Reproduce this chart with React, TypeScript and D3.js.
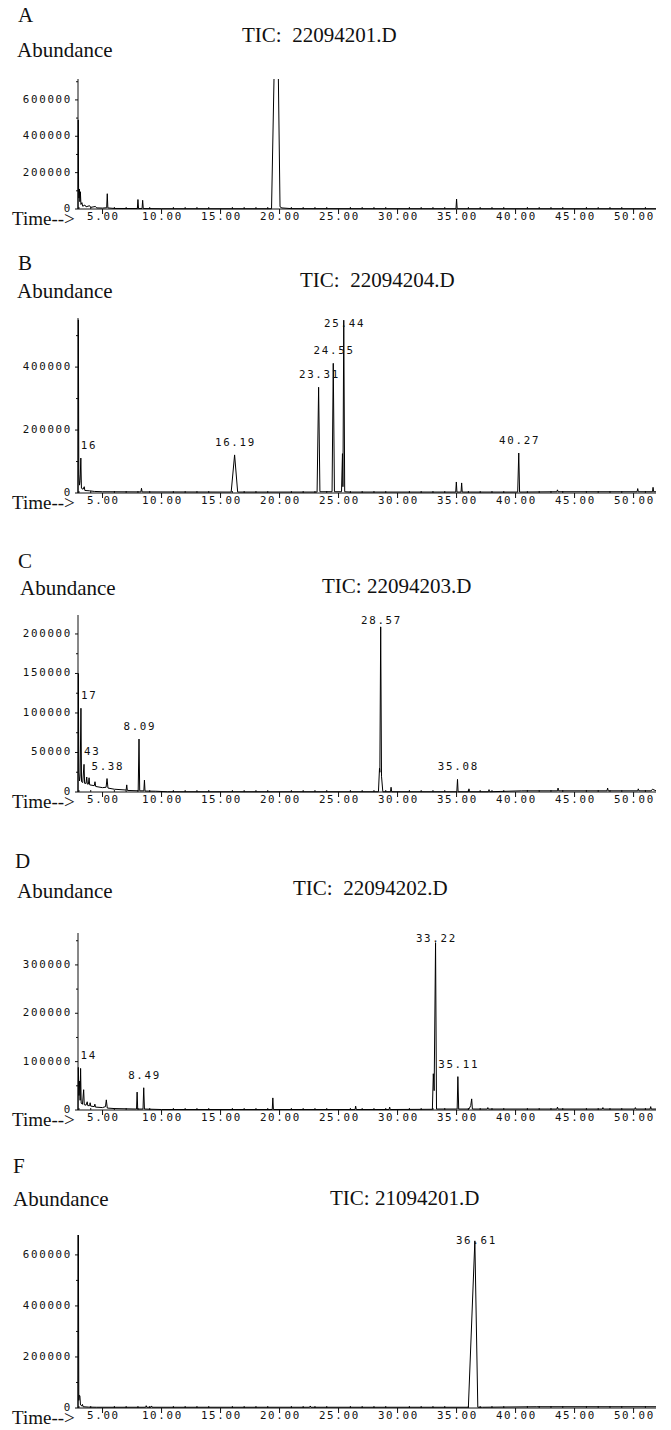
import React, { useRef, useEffect } from 'react';
import * as d3 from 'd3';

type Pt = [number, number];
type PeakLabel = { t: number; text: string; cut?: boolean };

// shared time axis (minutes)
const timeDomain: [number, number] = [2.92, 51.9];
const timeTicks = [5, 10, 15, 20, 25, 30, 35, 40, 45, 50];

const letters = ['A', 'B', 'C', 'D', 'F'];
const titles = ['TIC:  22094201.D', 'TIC:  22094204.D', 'TIC: 22094203.D', 'TIC:  22094202.D', 'TIC: 21094201.D'];

// abundance axis per panel
const yMaxes = [715000, 556000, 224000, 366000, 678000];
const yTicksA = [0, 200000, 400000, 600000];
const yTicksB = [0, 200000, 400000];
const yTicksC = [0, 50000, 100000, 150000, 200000];
const yTicksD = [0, 100000, 200000, 300000];
const yTicksF = [0, 200000, 400000, 600000];

// chromatogram traces [time, abundance]
const traceA: Pt[] = [
  [2.92, 0], [2.94, 490000], [2.97, 120000], [3.0, 60000], [3.04, 110000], [3.08, 40000],
  [3.12, 95000], [3.17, 25000], [3.25, 35000], [3.32, 15000], [3.5, 22000], [3.6, 12000],
  [3.9, 18000], [4.0, 9000], [4.4, 14000], [4.5, 6000], [5.0, 5000], [5.35, 7000],
  [5.4, 84000], [5.45, 6000], [6.0, 3000], [7.95, 2500], [8.0, 52000], [8.05, 2500],
  [8.35, 2500], [8.4, 48000], [8.45, 2500], [10.0, 1500], [19.32, 1500], [19.75, 1470000],
  [20.04, 12000], [20.2, 6000], [21.0, 2000], [34.95, 1500], [35.0, 55000], [35.05, 1500],
  [51.9, 1500],
];

const traceB: Pt[] = [
  [2.92, 0], [2.95, 550000], [2.99, 60000], [3.05, 25000], [3.1, 40000], [3.16, 111000],
  [3.21, 15000], [3.35, 12000], [3.45, 20000], [3.5, 8000], [3.9, 7000], [4.3, 5000],
  [5.0, 4000], [8.25, 3500], [8.3, 15000], [8.35, 3500], [15.9, 3000], [16.19, 121000],
  [16.45, 3000], [23.18, 3000], [23.31, 336000], [23.42, 4000], [24.45, 4000], [24.55, 412000],
  [24.65, 4000], [25.25, 4000], [25.33, 125000], [25.37, 20000], [25.44, 549000], [25.52, 4000],
  [26.0, 3000], [34.93, 3000], [34.98, 35000], [35.03, 3000], [35.38, 3000], [35.43, 32000],
  [35.48, 3000], [40.18, 3000], [40.27, 127000], [40.34, 3000], [43.5, 4000], [43.55, 10000],
  [43.6, 4000], [50.3, 4000], [50.35, 14000], [50.4, 4000], [51.6, 4000], [51.65, 18000],
  [51.7, 4000], [51.9, 4000],
];

const traceC: Pt[] = [
  [2.92, 0], [2.95, 150000], [2.99, 25000], [3.05, 14000], [3.1, 20000], [3.17, 106000],
  [3.22, 13000], [3.32, 12000], [3.43, 35000], [3.48, 11000], [3.6, 11000], [3.66, 19000],
  [3.71, 10000], [3.8, 10000], [3.86, 18000], [3.91, 9000], [4.3, 8000], [4.36, 13000],
  [4.42, 7000], [5.0, 5500], [5.3, 6000], [5.38, 17000], [5.46, 5000], [6.0, 3500],
  [7.0, 2500], [7.05, 9000], [7.1, 2000], [8.02, 1500], [8.09, 67000], [8.15, 1500],
  [8.5, 1500], [8.55, 15000], [8.6, 1200], [9.5, 1000], [10.5, 300], [28.38, 300],
  [28.47, 30000], [28.5, 25000], [28.57, 209000], [28.64, 20000], [28.75, 300], [29.4, 300],
  [29.45, 6000], [29.5, 300], [35.02, 300], [35.08, 16000], [35.13, 300], [36.0, 300],
  [36.05, 4000], [36.1, 300], [37.7, 300], [37.75, 3000], [37.8, 300], [40.5, 1500],
  [43.55, 1500], [43.6, 5000], [43.65, 1500], [47.75, 1500], [47.8, 5000], [47.85, 1500],
  [50.35, 1500], [50.4, 4000], [50.45, 1500], [51.5, 1500], [51.6, 3500], [51.9, 1500],
];

const traceD: Pt[] = [
  [2.92, 0], [2.95, 88000], [3.0, 30000], [3.06, 60000], [3.1, 20000], [3.14, 86000],
  [3.19, 14000], [3.3, 12000], [3.4, 42000], [3.45, 11000], [3.6, 10000], [3.7, 17000],
  [3.75, 9000], [3.9, 9000], [3.95, 15000], [4.0, 8000], [4.3, 7000], [4.35, 12000],
  [4.4, 6000], [5.0, 5000], [5.25, 7000], [5.32, 21000], [5.4, 4000], [6.0, 3000],
  [7.88, 2000], [7.93, 37000], [7.98, 2000], [8.43, 2000], [8.49, 46000], [8.55, 2000],
  [10.0, 1000], [19.38, 1000], [19.43, 25000], [19.48, 1000], [26.4, 1000], [26.45, 8000],
  [26.5, 1000], [29.28, 1000], [29.33, 6000], [29.38, 1000], [32.95, 1500], [33.03, 75000],
  [33.1, 40000], [33.22, 346000], [33.3, 2000], [35.05, 2000], [35.11, 69000], [35.18, 2000],
  [36.05, 2000], [36.2, 9000], [36.28, 23000], [36.34, 2000], [37.6, 2000], [37.65, 5000],
  [37.7, 2000], [43.5, 2000], [43.55, 6000], [43.6, 2000], [47.35, 2000], [47.4, 5000],
  [47.45, 2000], [50.1, 2000], [50.15, 5000], [50.2, 2000], [51.4, 2000], [51.45, 7000],
  [51.5, 2000], [51.9, 2000],
];

const traceF: Pt[] = [
  [2.92, 0], [2.95, 690000], [2.99, 30000], [3.03, 50000], [3.08, 48000], [3.13, 12000],
  [3.25, 8000], [3.3, 14000], [3.35, 5000], [3.8, 3500], [4.5, 3000], [8.65, 3000],
  [8.7, 9000], [8.75, 3000], [9.1, 3000], [9.15, 8000], [9.2, 3000], [22.55, 3000],
  [22.6, 8000], [22.65, 3000], [36.0, 3000], [36.55, 655000], [36.8, 3000], [37.2, 3000],
  [41.8, 5000], [51.9, 5000],
];

// retention time labels
const labelsA: PeakLabel[] = [];
const labelsB: PeakLabel[] = [
  { t: 3.16, text: '16', cut: true }, { t: 16.19, text: '16.19' }, { t: 23.31, text: '23.31' },
  { t: 24.55, text: '24.55' }, { t: 25.44, text: '25.44' }, { t: 40.27, text: '40.27' },
];
const labelsC: PeakLabel[] = [
  { t: 3.17, text: '17', cut: true }, { t: 3.43, text: '43', cut: true }, { t: 5.38, text: '5.38' },
  { t: 8.09, text: '8.09' }, { t: 28.57, text: '28.57' }, { t: 35.08, text: '35.08' },
];
const labelsD: PeakLabel[] = [
  { t: 3.14, text: '14', cut: true }, { t: 8.49, text: '8.49' }, { t: 33.22, text: '33.22' },
  { t: 35.11, text: '35.11' },
];
const labelsF: PeakLabel[] = [{ t: 36.61, text: '36.61' }];

const yTickSets = [yTicksA, yTicksB, yTicksC, yTicksD, yTicksF];
const traces = [traceA, traceB, traceC, traceD, traceF];
const peakLabels = [labelsA, labelsB, labelsC, labelsD, labelsF];

// page layout of each panel (px)
const layout = [
  { top: 79, base: 209, letterX: 18, letterY: 22, abX: 17, abY: 57, titleX: 242, titleY: 42 },
  { top: 318, base: 493, letterX: 18, letterY: 270, abX: 17, abY: 298, titleX: 300, titleY: 287 },
  { top: 615, base: 792, letterX: 18, letterY: 568, abX: 20, abY: 595, titleX: 322, titleY: 593 },
  { top: 933, base: 1110, letterX: 15, letterY: 868, abX: 17, abY: 898, titleX: 293, titleY: 895 },
  { top: 1235, base: 1408, letterX: 13, letterY: 1173, abX: 13, abY: 1206, titleX: 330, titleY: 1205 },
];

const SERIF = "'Liberation Serif', 'Times New Roman', serif";
const MONO = "'DejaVu Sans Mono', 'Liberation Mono', monospace";
const MONO_SIZE = 10.8;
const MONO_SPACING = 1.7;

const App = () => {
  const svgRef = useRef<SVGSVGElement>(null);

  useEffect(() => {
    if (!svgRef.current) return;
    const svg = d3.select(svgRef.current);
    svg.selectAll('*').remove();

    const axisLeft = 78;
    const axisRight = 656;
    const x = d3.scaleLinear().domain(timeDomain).range([axisLeft, axisRight]);
    const defs = svg.append('defs');

    const monoText = (g: any, px: number, py: number, anchor: string, s: string) =>
      g.append('text').attr('x', px).attr('y', py).attr('text-anchor', anchor)
        .attr('font-family', MONO).attr('font-size', MONO_SIZE)
        .attr('letter-spacing', MONO_SPACING).attr('fill', '#111').text(s);

    letters.forEach((letter, i) => {
      const L = layout[i];
      const ticks = yTickSets[i];
      const y = d3.scaleLinear().domain([0, yMaxes[i]]).range([L.base, L.top]);
      const g = svg.append('g');

      // headers
      g.append('text').attr('x', L.letterX).attr('y', L.letterY)
        .attr('font-family', SERIF).attr('font-size', 21).attr('fill', '#111').text(letter);
      g.append('text').attr('x', L.abX).attr('y', L.abY)
        .attr('font-family', SERIF).attr('font-size', 21).attr('fill', '#111').text('Abundance');
      g.append('text').attr('x', L.titleX).attr('y', L.titleY)
        .attr('font-family', SERIF).attr('font-size', 21).attr('fill', '#111')
        .style('white-space', 'pre').text(titles[i]);
      g.append('text').attr('x', 12).attr('y', L.base + 16)
        .attr('font-family', SERIF).attr('font-size', 19).attr('fill', '#111').text('Time-->');

      // axis lines
      g.append('line').attr('x1', axisLeft).attr('x2', axisLeft)
        .attr('y1', L.base).attr('y2', L.top).attr('stroke', '#111').attr('stroke-width', 1);
      g.append('line').attr('x1', axisLeft).attr('x2', axisRight)
        .attr('y1', L.base).attr('y2', L.base).attr('stroke', '#111').attr('stroke-width', 1);

      // y ticks + minor ticks
      const step = ticks[1] - ticks[0];
      const minor = d3.range(step / 2, yMaxes[i], step / 2).filter(v => !ticks.includes(v));
      ticks.forEach(v => {
        g.append('line').attr('x1', axisLeft - 3).attr('x2', axisLeft)
          .attr('y1', y(v)).attr('y2', y(v)).attr('stroke', '#111');
        monoText(g, axisLeft - 6, y(v) + 3, 'end', String(v));
      });
      minor.forEach(v => {
        g.append('line').attr('x1', axisLeft - 2).attr('x2', axisLeft)
          .attr('y1', y(v)).attr('y2', y(v)).attr('stroke', '#111');
      });

      // x ticks
      d3.range(3, 52, 1).filter(t => !timeTicks.includes(t)).forEach(t => {
        g.append('line').attr('x1', x(t)).attr('x2', x(t))
          .attr('y1', L.base - 2).attr('y2', L.base).attr('stroke', '#111');
      });
      timeTicks.forEach(t => {
        g.append('line').attr('x1', x(t)).attr('x2', x(t))
          .attr('y1', L.base).attr('y2', L.base + 5).attr('stroke', '#111');
        monoText(g, x(t) + MONO_SPACING / 2, L.base + 11, 'middle', t.toFixed(2));
      });

      // trace, clipped to plot area
      const clipId = `plot-clip-${i}`;
      defs.append('clipPath').attr('id', clipId).append('rect')
        .attr('x', axisLeft - 1).attr('y', L.top).attr('width', axisRight - axisLeft + 4)
        .attr('height', L.base - L.top + 1);
      const line = d3.line<Pt>().x(d => x(d[0])).y(d => y(d[1]));
      g.append('path').datum(traces[i]).attr('clip-path', `url(#${clipId})`)
        .attr('fill', 'none').attr('stroke', '#000').attr('stroke-width', 1)
        .attr('d', line);

      // peak labels
      peakLabels[i].forEach(lb => {
        const apex = d3.max(traces[i].filter(d => Math.abs(d[0] - lb.t) <= 0.1), d => d[1]) ?? 0;
        const cy = Math.max(y(Math.min(apex, yMaxes[i])) - 13, L.top + 5);
        monoText(g, lb.cut ? x(lb.t) : x(lb.t) + MONO_SPACING / 2, cy + 4,
          lb.cut ? 'start' : 'middle', lb.text);
      });
    });
  }, []);

  return (
    <svg
      ref={svgRef}
      width={671}
      height={1430}
      style={{ position: 'absolute', left: 0, top: 0, background: '#fff' }}
    />
  );
};

export default App;
